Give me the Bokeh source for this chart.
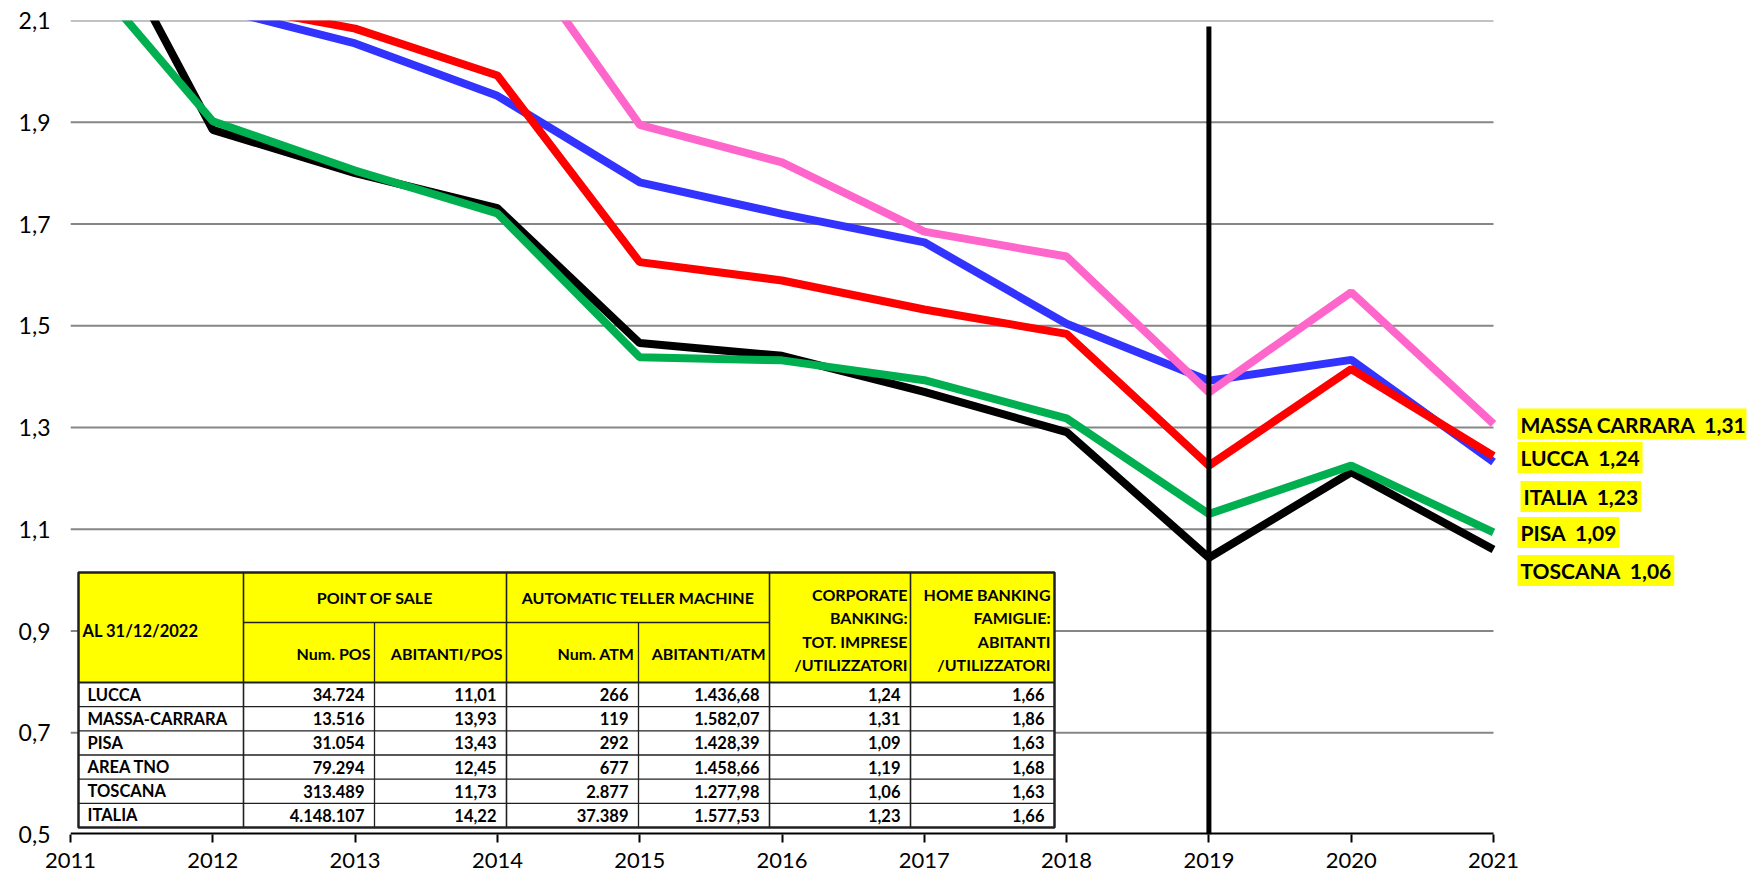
import math
from bokeh.plotting import figure
from bokeh.models import Range1d, FixedTicker, CustomJSTickFormatter, Label
from bokeh.core.properties import value
from bokeh.embed import file_html
from bokeh.resources import INLINE

nan = float("nan")

# ---------------- data ----------------
years = [2011, 2012, 2013, 2014, 2015, 2016, 2017, 2018, 2019, 2020, 2021]
toscana = [2.41, 1.885, 1.80, 1.731, 1.466, 1.441, 1.37, 1.291, 1.044, 1.212, 1.06]
pisa = [2.23, 1.902, 1.805, 1.721, 1.438, 1.432, 1.393, 1.318, 1.130, 1.225, 1.094]
italia = [nan, 2.126, 2.055, 1.952, 1.782, 1.720, 1.664, 1.504, 1.392, 1.433, 1.232]
lucca = [nan, 2.136, 2.084, 1.992, 1.625, 1.589, 1.532, 1.484, 1.225, 1.415, 1.244]
massa = [nan, nan, nan, 2.29, 1.895, 1.821, 1.685, 1.636, 1.369, 1.566, 1.307]

marker_year = [2019]
marker_bottom = [0.5]
marker_top = [2.088]

y_ticks = [0.5, 0.7, 0.9, 1.1, 1.3, 1.5, 1.7, 1.9, 2.1]

label_names = ["MASSA CARRARA", "LUCCA", "ITALIA", "PISA", "TOSCANA"]
label_values = [1.31, 1.24, 1.23, 1.09, 1.06]

table_rows = ["LUCCA", "MASSA-CARRARA", "PISA", "AREA TNO", "TOSCANA", "ITALIA"]
num_pos = ["34.724", "13.516", "31.054", "79.294", "313.489", "4.148.107"]
ab_pos = ["11,01", "13,93", "13,43", "12,45", "11,73", "14,22"]
num_atm = ["266", "119", "292", "677", "2.877", "37.389"]
ab_atm = ["1.436,68", "1.582,07", "1.428,39", "1.458,66", "1.277,98", "1.577,53"]
corp = ["1,24", "1,31", "1,09", "1,19", "1,06", "1,23"]
home = ["1,66", "1,86", "1,63", "1,68", "1,63", "1,66"]

table_date = "AL 31/12/2022"
group_headers = ["POINT OF SALE", "AUTOMATIC TELLER MACHINE"]
sub_headers = ["Num. POS", "ABITANTI/POS", "Num. ATM", "ABITANTI/ATM"]
corp_header = ["CORPORATE", "BANKING:", "TOT. IMPRESE", "/UTILIZZATORI"]
home_header = ["HOME BANKING", "FAMIGLIE:", "ABITANTI", "/UTILIZZATORI"]

# ---------------- layout ----------------
W, H = 1748, 878
ML, MR, MT, MB = 70, 2, 20, 44
X0, X1, Y0, Y1 = 2011, 2021, 0.5, 2.1
FW = W - ML - MR
FH = H - MT - MB
X_LAST_PX = 1493          # pixel where the last year sits
X_END = X0 + (X1 - X0) * FW / (X_LAST_PX - ML)


def dx(px):
    return X0 + (px - ML) / FW * (X_END - X0)


def dy(py):
    return Y1 - (py - MT) / FH * (Y1 - Y0)


FONT = "Lato"

p = figure(width=W, height=H, output_backend="svg", toolbar_location=None,
           x_range=Range1d(X0, X_END), y_range=Range1d(Y0, Y1),
           min_border_left=ML, min_border_right=MR, min_border_top=MT,
           min_border_bottom=MB, outline_line_color=None,
           background_fill_color="white", border_fill_color="white")

# axes
p.xaxis.ticker = FixedTicker(ticks=years)
p.xaxis.axis_line_color = None
p.xaxis.major_tick_line_color = "black"
p.xaxis.major_tick_line_width = 2
p.xaxis.major_tick_out = 8
p.xaxis.major_tick_in = 0
p.xaxis.minor_tick_line_color = None
p.xaxis.major_label_standoff = 10
p.xaxis.major_label_text_font = FONT
p.xaxis.major_label_text_font_size = "22px"
p.xaxis.major_label_text_color = "black"

p.yaxis.ticker = FixedTicker(ticks=y_ticks)
p.yaxis.formatter = CustomJSTickFormatter(code="return tick.toFixed(1).replace('.', ',');")
p.yaxis.axis_line_color = None
p.yaxis.major_tick_line_color = None
p.yaxis.minor_tick_line_color = None
p.yaxis.major_tick_out = 0
p.yaxis.major_tick_in = 0
p.yaxis.major_label_standoff = 20
p.yaxis.major_label_text_font = FONT
p.yaxis.major_label_text_font_size = "23px"
p.yaxis.major_label_text_color = "black"

p.xgrid.grid_line_color = None
p.ygrid.grid_line_color = None

# horizontal grid lines, only across the years span
grid_vals = [t for t in y_ticks if t > Y0]
p.segment(x0=[X0] * len(grid_vals), y0=grid_vals, x1=[X1] * len(grid_vals), y1=grid_vals,
          line_color="#868686", line_width=2)

# lines
LW = 8
p.line(years, toscana, line_color="#000000", line_width=LW)
p.line(years, italia, line_color="#3333FF", line_width=LW)
p.line(years, lucca, line_color="#FF0000", line_width=LW)
p.line(years, pisa, line_color="#00B050", line_width=LW)
p.line(years, massa, line_color="#FF66CC", line_width=LW)

p.segment(x0=marker_year, y0=marker_bottom, x1=marker_year, y1=marker_top,
          line_color="black", line_width=5)

# ---------------- table ----------------
XE = [78, 243, 374, 506, 638, 769, 910, 1054]
T_TOP, T_MID, T_HB, T_BOT = 572, 622, 682, 827
RH = (T_BOT - T_HB) / len(table_rows)
row_lines = [T_HB + RH * (i + 1) for i in range(len(table_rows) - 1)]

p.quad(left=[dx(XE[0])], right=[dx(XE[-1])], top=[dy(T_TOP)], bottom=[dy(T_BOT)],
       fill_color="white", line_color=None)
p.quad(left=[dx(XE[0])], right=[dx(XE[-1])], top=[dy(T_TOP)], bottom=[dy(T_HB)],
       fill_color="#FFFF00", line_color=None)

hx0, hy0, hx1, hy1 = [], [], [], []
for y in row_lines:
    hx0.append(dx(XE[0])); hx1.append(dx(XE[-1])); hy0.append(dy(y)); hy1.append(dy(y))
hx0.append(dx(XE[1])); hx1.append(dx(XE[5])); hy0.append(dy(T_MID)); hy1.append(dy(T_MID))
for x in (XE[2], XE[4]):
    hx0.append(dx(x)); hx1.append(dx(x)); hy0.append(dy(T_MID)); hy1.append(dy(T_BOT))
p.segment(x0=hx0, y0=hy0, x1=hx1, y1=hy1, line_color="#202020", line_width=1.3)

vx = [dx(x) for x in (XE[1], XE[3], XE[5], XE[6])]
p.segment(x0=vx, y0=[dy(T_TOP)] * 4, x1=vx, y1=[dy(T_BOT)] * 4,
          line_color="#202020", line_width=1.6)
p.segment(x0=[dx(XE[0])], y0=[dy(T_HB)], x1=[dx(XE[-1])], y1=[dy(T_HB)],
          line_color="#202020", line_width=2)
p.quad(left=[dx(XE[0])], right=[dx(XE[-1])], top=[dy(T_TOP)], bottom=[dy(T_BOT)],
       fill_color=None, line_color="#202020", line_width=2.5)

# x axis line, only across the years span
p.segment(x0=[X0], y0=[Y0], x1=[X1], y1=[Y0], line_color="black", line_width=4)

TF = dict(text_font=value(FONT), text_font_style="bold", text_color="black",
          text_baseline="middle")
HS = "16px"
BS = "16.5px"

p.text(x=[dx(82)], y=[dy(630)], text=[table_date], text_align="left",
       text_font_size=BS, **TF)
p.text(x=[dx((XE[1] + XE[3]) / 2), dx((XE[3] + XE[5]) / 2)], y=[dy(597)] * 2,
       text=group_headers, text_align="center", text_font_size=HS, **TF)
p.text(x=[dx(XE[i + 1] - 4) for i in range(1, 5)], y=[dy(653)] * 4,
       text=sub_headers, text_align="right", text_font_size=HS, **TF)
hdr_y = [594, 617, 641, 664]
p.text(x=[dx(XE[6] - 3)] * 4, y=[dy(v) for v in hdr_y], text=corp_header,
       text_align="right", text_font_size=HS, **TF)
p.text(x=[dx(XE[7] - 4)] * 4, y=[dy(v) for v in hdr_y], text=home_header,
       text_align="right", text_font_size=HS, **TF)

row_y = [dy(T_HB + RH * (i + 0.5)) for i in range(len(table_rows))]
p.text(x=[dx(87)] * len(table_rows), y=row_y, text=table_rows, text_align="left",
       text_font_size=BS, **TF)
for ci, col in enumerate([num_pos, ab_pos, num_atm, ab_atm, corp, home]):
    p.text(x=[dx(XE[ci + 2] - 10)] * len(col), y=row_y, text=col, text_align="right",
           text_font_size=BS, **TF)

# ---------------- right labels ----------------
label_dy = [-1.6, 0.5, -33.4, 1.8, -20.9]
label_dx = [24, 24, 27, 24, 24]
for name, v, oy, ox in zip(label_names, label_values, label_dy, label_dx):
    txt = name + "\u00a0\u00a0" + ("%.2f" % v).replace(".", ",")
    p.add_layout(Label(x=X1, y=v, x_offset=ox, y_offset=oy, text=txt,
                       text_font=FONT, text_font_style="bold",
                       text_font_size="21px", text_color="black",
                       text_baseline="middle", text_align="left",
                       background_fill_color="#FFFF00", padding=3))

open("out.html", "w").write(file_html(p, INLINE))
